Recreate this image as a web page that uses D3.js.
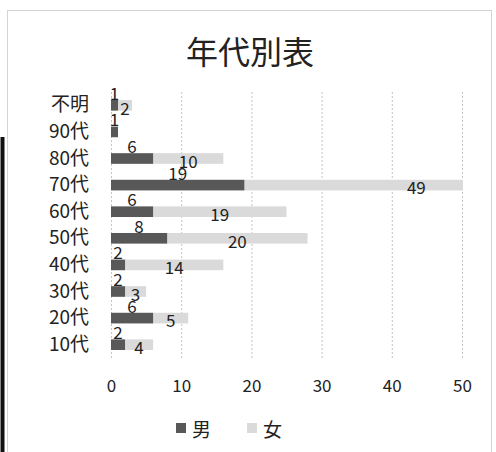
<!DOCTYPE html>
<html><head><meta charset="utf-8">
<script src="https://cdn.jsdelivr.net/npm/d3@7"></script>
<style>
html,body{margin:0;padding:0;background:#fff;}
text{font-family:"Noto Sans CJK JP","Noto Sans",sans-serif;fill:#222;}
</style></head>
<body>
<svg id="c" width="496" height="452"></svg>
<script>
const categories = ["不明","90代","80代","70代","60代","50代","40代","30代","20代","10代"];
const male   = [1, 1, 6, 19, 6, 8, 2, 2, 6, 2];
const female = [2, 0, 10, 49, 19, 20, 14, 3, 5, 4];
const xTicks = [0, 10, 20, 30, 40, 50];
const seriesNames = ["男", "女"];
const title = "年代別表";

const svg = d3.select("#c");
const W = 496, H = 452;
const colMale = "#585858", colFemale = "#dadada";

svg.append("rect").attr("width", W).attr("height", H).attr("fill", "#fff");
// chart frame
svg.append("rect").attr("x", 7.5).attr("y", 10.5).attr("width", 484).attr("height", 460)
  .attr("fill", "none").attr("stroke", "#d4d4d4");
// scan edge on the left
svg.append("line").attr("x1", 2.5).attr("x2", 2.5).attr("y1", 137).attr("y2", H)
  .attr("stroke", "#111").attr("stroke-width", 4);

const x = d3.scaleLinear().domain([0, 50]).range([111, 462]);
const y = d3.scaleBand().domain(categories).range([92, 358]).paddingInner(0.6).paddingOuter(0.3);

// title
svg.append("text").attr("x", 250).attr("y", 50).attr("text-anchor", "middle")
  .attr("dominant-baseline", "central").style("font-size", "32px").text(title);

// gridlines
svg.append("g").selectAll("line").data(xTicks).join("line")
  .attr("x1", d => x(d) + 0.5).attr("x2", d => x(d) + 0.5)
  .attr("y1", 92).attr("y2", 358)
  .attr("stroke", "#c4c4c4").attr("stroke-dasharray", "2,2");

// x axis
const xa = svg.append("g").attr("transform", "translate(0,358)")
  .call(d3.axisBottom(x).tickValues(xTicks).tickSize(0).tickPadding(22));
xa.select(".domain").remove();
xa.selectAll("text").style("font-size", "17px").attr("fill", "#222")
  .style("font-family", "\"Noto Sans CJK JP\",sans-serif");

// y axis
const ya = svg.append("g").attr("transform", "translate(111,0)")
  .call(d3.axisLeft(y).tickSize(0).tickPadding(22));
ya.select(".domain").remove();
ya.selectAll("text").style("font-size", "19px").attr("fill", "#222")
  .style("font-family", "\"Noto Sans CJK JP\",sans-serif");

// clip
svg.append("clipPath").attr("id", "plot").append("rect")
  .attr("x", x(0)).attr("y", 80).attr("width", x(50) - x(0) + 1).attr("height", 300);

const rows = categories.map((c, i) => ({c, m: male[i], f: female[i]}));
const bars = svg.append("g").attr("clip-path", "url(#plot)");
bars.selectAll("rect.f").data(rows).join("rect").attr("class", "f")
  .attr("x", d => x(d.m)).attr("width", d => x(d.m + d.f) - x(d.m))
  .attr("y", d => y(d.c)).attr("height", y.bandwidth())
  .attr("fill", colFemale);
bars.selectAll("rect.m").data(rows).join("rect").attr("class", "m")
  .attr("x", x(0)).attr("width", d => x(d.m) - x(0))
  .attr("y", d => y(d.c)).attr("height", y.bandwidth())
  .attr("fill", colMale);

// data labels
const mid = d => y(d.c) + y.bandwidth() / 2;
svg.append("g").selectAll("text").data(rows.filter(d => d.m > 0)).join("text")
  .attr("x", d => x(d.m / 2)).attr("y", mid).attr("dy", "-0.32em")
  .attr("text-anchor", "middle").style("font-size", "17px").text(d => d.m);
svg.append("g").selectAll("text").data(rows.filter(d => d.f > 0)).join("text")
  .attr("x", d => x(d.m + d.f / 2)).attr("y", mid).attr("dy", "0.55em")
  .attr("text-anchor", "middle").style("font-size", "17px").text(d => d.f);

// legend
const leg = svg.append("g").selectAll("g").data(seriesNames).join("g")
  .attr("transform", (d, i) => `translate(${176 + i * 71},428)`);
leg.append("rect").attr("x", 0).attr("y", -5).attr("width", 10).attr("height", 10)
  .attr("fill", (d, i) => i === 0 ? colMale : colFemale);
leg.append("text").attr("x", 16).attr("y", 0).attr("dominant-baseline", "central")
  .style("font-size", "19px").text(d => d);
</script>
</body></html>
